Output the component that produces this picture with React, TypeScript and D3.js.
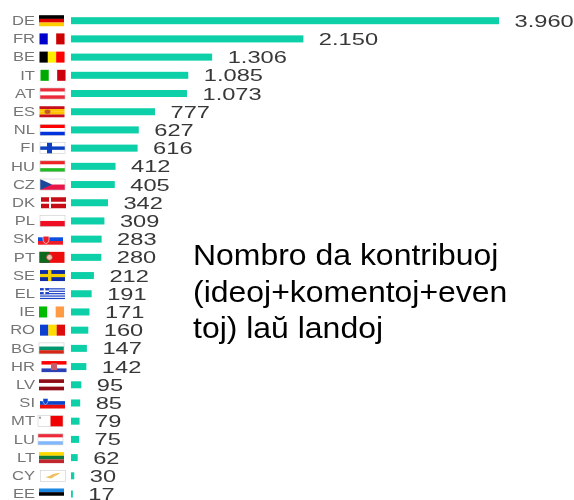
import React from "react";
import * as d3 from "d3";

const countries = ["DE","FR","BE","IT","AT","ES","NL","FI","HU","CZ","DK","PL","SK","PT","SE","EL","IE","RO","BG","HR","LV","SI","MT","LU","LT","CY","EE"];
const contributions = [3960,2150,1306,1085,1073,777,627,616,412,405,342,309,283,280,212,191,171,160,147,142,95,85,79,75,62,30,17];
const valueLabels = ["3.960","2.150","1.306","1.085","1.073","777","627","616","412","405","342","309","283","280","212","191","171","160","147","142","95","85","79","75","62","30","17"];
const titleLines = ["Nombro da kontribuoj","(ideoj+komentoj+even","toj) laŭ landoj"];

const flagH: Record<string,string[]> = {
  DE:["#000000","#dd0000","#ffce00"],
  AT:["#ed2939","#ffffff","#ed2939"],
  ES:["#c60b1e","#ffc400","#ffc400","#c60b1e"],
  NL:["#ff0000","#ffffff","#0033dd"],
  HU:["#ee2222","#ffffff","#22bb22"],
  PL:["#ffffff","#ee1122"],
  SK:["#ffffff","#0b4ee0","#ee1c25"],
  HR:["#ff0000","#ffffff","#2a3fb5"],
  LV:["#8f0f17","#ffffff","#8f0f17"],
  SI:["#ffffff","#0b44cc","#ee1111"],
  LU:["#ee2b38","#ffffff","#7fb8ff"],
  LT:["#fdd800","#0a7a3c","#c1272d"],
  BG:["#ffffff","#00966e","#d62612"],
  EE:["#1a85e0","#000000","#ffffff"],
};
const flagV: Record<string,string[]> = {
  FR:["#0000cc","#ffffff","#cc0000"],
  BE:["#000000","#ffee00","#ff0000"],
  IT:["#00aa00","#ffffff","#cc0011"],
  IE:["#00bb00","#ffffff","#ff9a44"],
  RO:["#0b3fd0","#ffdd00","#dd1111"],
};
const flagShift: Record<string,number> = {DE:-1,FR:-0.5,BE:-0.5,IT:0.5,ES:-0.5,DK:1,SK:-2,PT:-0.5,BG:-1,HR:1.5,LV:-1,MT:-2,LU:-2,LT:-1,IE:-1,EE:-1,CY:0.5};

const W = 25, H = 11;

function Flag({ code }: { code: string }) {
  const outline = <rect x={0} y={0} width={W} height={H} fill="none" stroke="#cccccc" strokeWidth={0.6} />;
  if (flagH[code]) {
    const c = flagH[code];
    const h = H / c.length;
    return <g>
      {c.map((f, i) => <rect key={i} x={0} y={i*h} width={W} height={h+0.05} fill={f} />)}
      {code === "SK" && <path d="M5 2.5h6v4q-0.5 3-3 3.5q-2.5-0.5-3-3.5z" fill="#ee1c25" stroke="#fff" strokeWidth={0.6} />}
      {code === "HR" && <rect x={9.5} y={2} width={6} height={7} fill="#c85a6a" />}
      {code === "SI" && <path d="M3 1h5v3q-0.5 2.5-2.5 3q-2-0.5-2.5-3z" fill="#0b44cc" stroke="#fff" strokeWidth={0.5} />}
      {code === "ES" && <ellipse cx={8} cy={5.5} rx={3} ry={2.2} fill="#c8552b" />}
      {(code === "AT" || code === "NL" || code === "HU" || code === "PL" || code === "LU" || code === "BG") && outline}
    </g>;
  }
  if (flagV[code]) {
    const c = flagV[code];
    const w = W / c.length;
    return <g>{c.map((f, i) => <rect key={i} x={i*w} y={0} width={w+0.05} height={H} fill={f} />)}</g>;
  }
  if (code === "CZ") return <g>
    <rect width={W} height={H/2} fill="#fff" /><rect y={H/2} width={W} height={H/2} fill="#e8174a" />
    <path d={`M0 0L12 ${H/2}L0 ${H}Z`} fill="#1f4a9c" />{outline}</g>;
  if (code === "DK") return <g>
    <rect width={W} height={H} fill="#c60c14" /><rect x={8} width={2} height={H} fill="#fff" /><rect y={4.5} width={W} height={2} fill="#fff" /></g>;
  if (code === "FI") return <g>
    <rect width={W} height={H} fill="#fff" /><rect x={7} width={5} height={H} fill="#0a3fc0" /><rect y={3.8} width={W} height={3.4} fill="#0a3fc0" />{outline}</g>;
  if (code === "SE") return <g>
    <rect width={W} height={H} fill="#0a2fa8" /><rect x={8} width={3.4} height={H} fill="#f5d000" /><rect y={3.9} width={W} height={3.2} fill="#f5d000" /></g>;
  if (code === "PT") return <g>
    <rect width={W} height={H} fill="#ee1111" /><rect width={10} height={H} fill="#0a6a1c" /><circle cx={10} cy={5.5} r={3} fill="#e8c8b0" stroke="#b03030" strokeWidth={0.8} /></g>;
  if (code === "EL") return <g>
    <rect width={W} height={H} fill="#fff" />
    {[0,1,2,3,4].map(i => <rect key={i} y={i*2.4} width={W} height={1.2} fill="#1a3fc4" />)}
    <rect width={9} height={6} fill="#1a3fc4" /><rect x={3.7} width={1.6} height={6} fill="#fff" /><rect y={2.2} width={9} height={1.6} fill="#fff" /></g>;
  if (code === "MT") return <g>
    <rect width={W} height={H} fill="#fff" /><rect x={12.5} width={12.5} height={H} fill="#f00000" /><rect x={1} y={1} width={2} height={2} fill="#999" />{outline}</g>;
  if (code === "CY") return <g>
    <rect width={W} height={H} fill="#fff" /><path d="M5 7Q9 6 12 4Q16 2.5 20 2.5Q17 5 14 6Q12 8.5 9 8Z" fill="#f0c060" />{outline}</g>;
  return null;
}

export default function App() {
  const x = d3.scaleLinear().domain([0, 3960]).range([71, 499]);
  const y = d3.scalePoint<string>().domain(countries).range([20.7, 494]);
  return (
    <svg width={574} height={500} style={{ position: "absolute", left: 0, top: 0, background: "#fff" }} fontFamily="'Liberation Sans', Arial, sans-serif">
      <defs>
        <filter id="soft" x="-5%" y="-5%" width="110%" height="110%"><feGaussianBlur stdDeviation={0.4} /></filter>
      </defs>
      <g filter="url(#soft)">
        {countries.map((c, i) => {
          const cy = y(c)!;
          return <g key={c}>
            <text transform={`translate(35 ${cy + 4.3}) scale(1.38 1)`} textAnchor="end" fontSize={12} fill="#757575">{c}</text>
            <g transform={`translate(${40 + (flagShift[c] ?? 0)} ${cy - 5.5})`}><Flag code={c} /></g>
            <rect x={x(0)} y={cy - 3.5} width={x(contributions[i]) - x(0)} height={7} fill="#0bcfa8" />
            <text transform={`translate(${x(contributions[i]) + 15.5} ${cy + 6}) scale(1.48 1)`} fontSize={16} fill="#383838">{valueLabels[i]}</text>
          </g>;
        })}
      </g>
      <g filter="url(#soft)">
        {titleLines.map((t, i) => (
          <text key={t} transform={`translate(193 ${265 + i * 36.5}) scale(1.065 1)`} fontSize={30} fill="#000">{t}</text>
        ))}
      </g>
    </svg>
  );
}
